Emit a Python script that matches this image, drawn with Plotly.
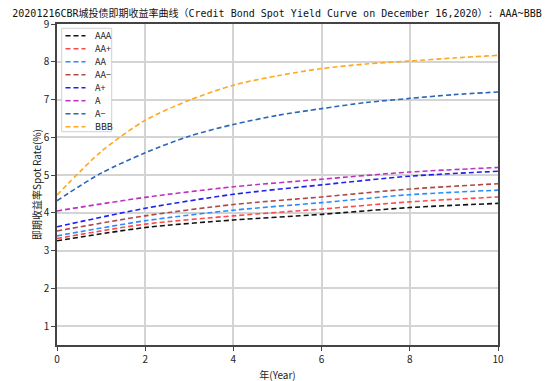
import plotly.graph_objects as go

years_even = [0, 2, 4, 6, 8, 10]
years_all = [0, 1, 2, 3, 4, 5, 6, 7, 8, 9, 10]

aaa = [3.26, 3.61, 3.81, 3.96, 4.14, 4.25]
aa_plus = [3.32, 3.70, 3.92, 4.10, 4.29, 4.42]
aa = [3.39, 3.79, 4.07, 4.27, 4.48, 4.60]
aa_minus = [3.52, 3.92, 4.22, 4.42, 4.63, 4.77]
a_plus = [3.63, 4.12, 4.49, 4.74, 4.97, 5.10]
a_mid = [4.05, 4.41, 4.69, 4.89, 5.08, 5.20]
a_minus = [4.32, 5.05, 5.59, 6.03, 6.34, 6.58, 6.76, 6.92, 7.03, 7.13, 7.20]
bbb = [4.47, 5.62, 6.45, 6.98, 7.38, 7.63, 7.82, 7.94, 8.02, 8.10, 8.17]

series = [
    ("AAA", years_even, aaa, "#111111"),
    ("AA+", years_even, aa_plus, "#ff4a4a"),
    ("AA", years_even, aa, "#2a8cff"),
    ("AA−", years_even, aa_minus, "#b04848"),
    ("A+", years_even, a_plus, "#2020f0"),
    ("A", years_even, a_mid, "#c030c0"),
    ("A−", years_all, a_minus, "#2b66b8"),
    ("BBB", years_all, bbb, "#ffa820"),
]

DASH = "5px,3px"

fig = go.Figure()
for name, xs, ys, color in series:
    fig.add_trace(go.Scatter(
        x=xs, y=ys, name=name, mode="lines", showlegend=False,
        line=dict(color=color, width=1.6, dash=DASH, shape="spline", smoothing=0.8),
    ))

# compact legend box (top-left inside the plot), built from the series list
plot_w, plot_h = 441.0, 321.0
box_x0, box_x1 = 4.7 / plot_w, 54.7 / plot_w
box_y1, box_y0 = 1 - 4.3 / plot_h, 1 - 107.7 / plot_h
fig.add_shape(type="rect", xref="paper", yref="paper",
              x0=box_x0, x1=box_x1, y0=box_y0, y1=box_y1,
              line=dict(color="#d0d0d0", width=1), fillcolor="rgba(255,255,255,0.85)",
              layer="above")
first_row_px, row_gap_px = 11.7, 13.0
for i, (name, xs, ys, color) in enumerate(series):
    yy = 1 - (first_row_px + i * row_gap_px) / plot_h
    fig.add_shape(type="line", xref="paper", yref="paper",
                  x0=8.5 / plot_w, x1=28.5 / plot_w, y0=yy, y1=yy,
                  line=dict(color=color, width=1.6, dash=DASH), layer="above")
    fig.add_annotation(xref="paper", yref="paper", x=35.5 / plot_w, y=yy,
                       xanchor="left", yanchor="middle", showarrow=False,
                       text=name, font=dict(size=9, color="#222222"))

font_family = "Noto Sans CJK SC, DejaVu Sans, sans-serif"
title_font = "DejaVu Sans Mono, Noto Sans CJK SC, monospace"
fig.update_layout(
    width=554, height=381,
    margin=dict(l=49, r=64, t=16, b=44, autoexpand=False),
    paper_bgcolor="white", plot_bgcolor="white",
    font=dict(family=font_family, size=10, color="#222222"),
    title=dict(
        text="20201216CBR城投债即期收益率曲线（Credit Bond Spot Yield Curve on December 16,2020）: AAA~BBB",
        x=269 / 554, xanchor="center", y=1.0, yanchor="top", yref="container", pad=dict(t=2),
        automargin=False,
        font=dict(size=10.0, color="#111111", family=title_font),
    ),
    xaxis=dict(
        range=[0, 10], tickvals=[0, 2, 4, 6, 8, 10], automargin=False,
        showgrid=True, gridcolor="#d4d4d4", gridwidth=1.5,
        showline=True, linecolor="#444444", linewidth=1.5, mirror=True,
        ticks="outside", ticklen=4, tickcolor="#444444",
        zeroline=False,
        title=dict(text="年(Year)", standoff=7, font=dict(size=10)),
        tickfont=dict(size=10),
    ),
    yaxis=dict(
        range=[0.5, 9], tickvals=[1, 2, 3, 4, 5, 6, 7, 8, 9], automargin=False,
        showgrid=True, gridcolor="#d4d4d4", gridwidth=1.5,
        showline=True, linecolor="#444444", linewidth=1.5, mirror=True,
        ticks="outside", ticklen=4, tickcolor="#444444",
        zeroline=False,
        title=dict(text="即期收益率Spot Rate(%)", standoff=0, font=dict(size=10)),
        tickfont=dict(size=10),
    ),
)

fig.write_html("out.html")
